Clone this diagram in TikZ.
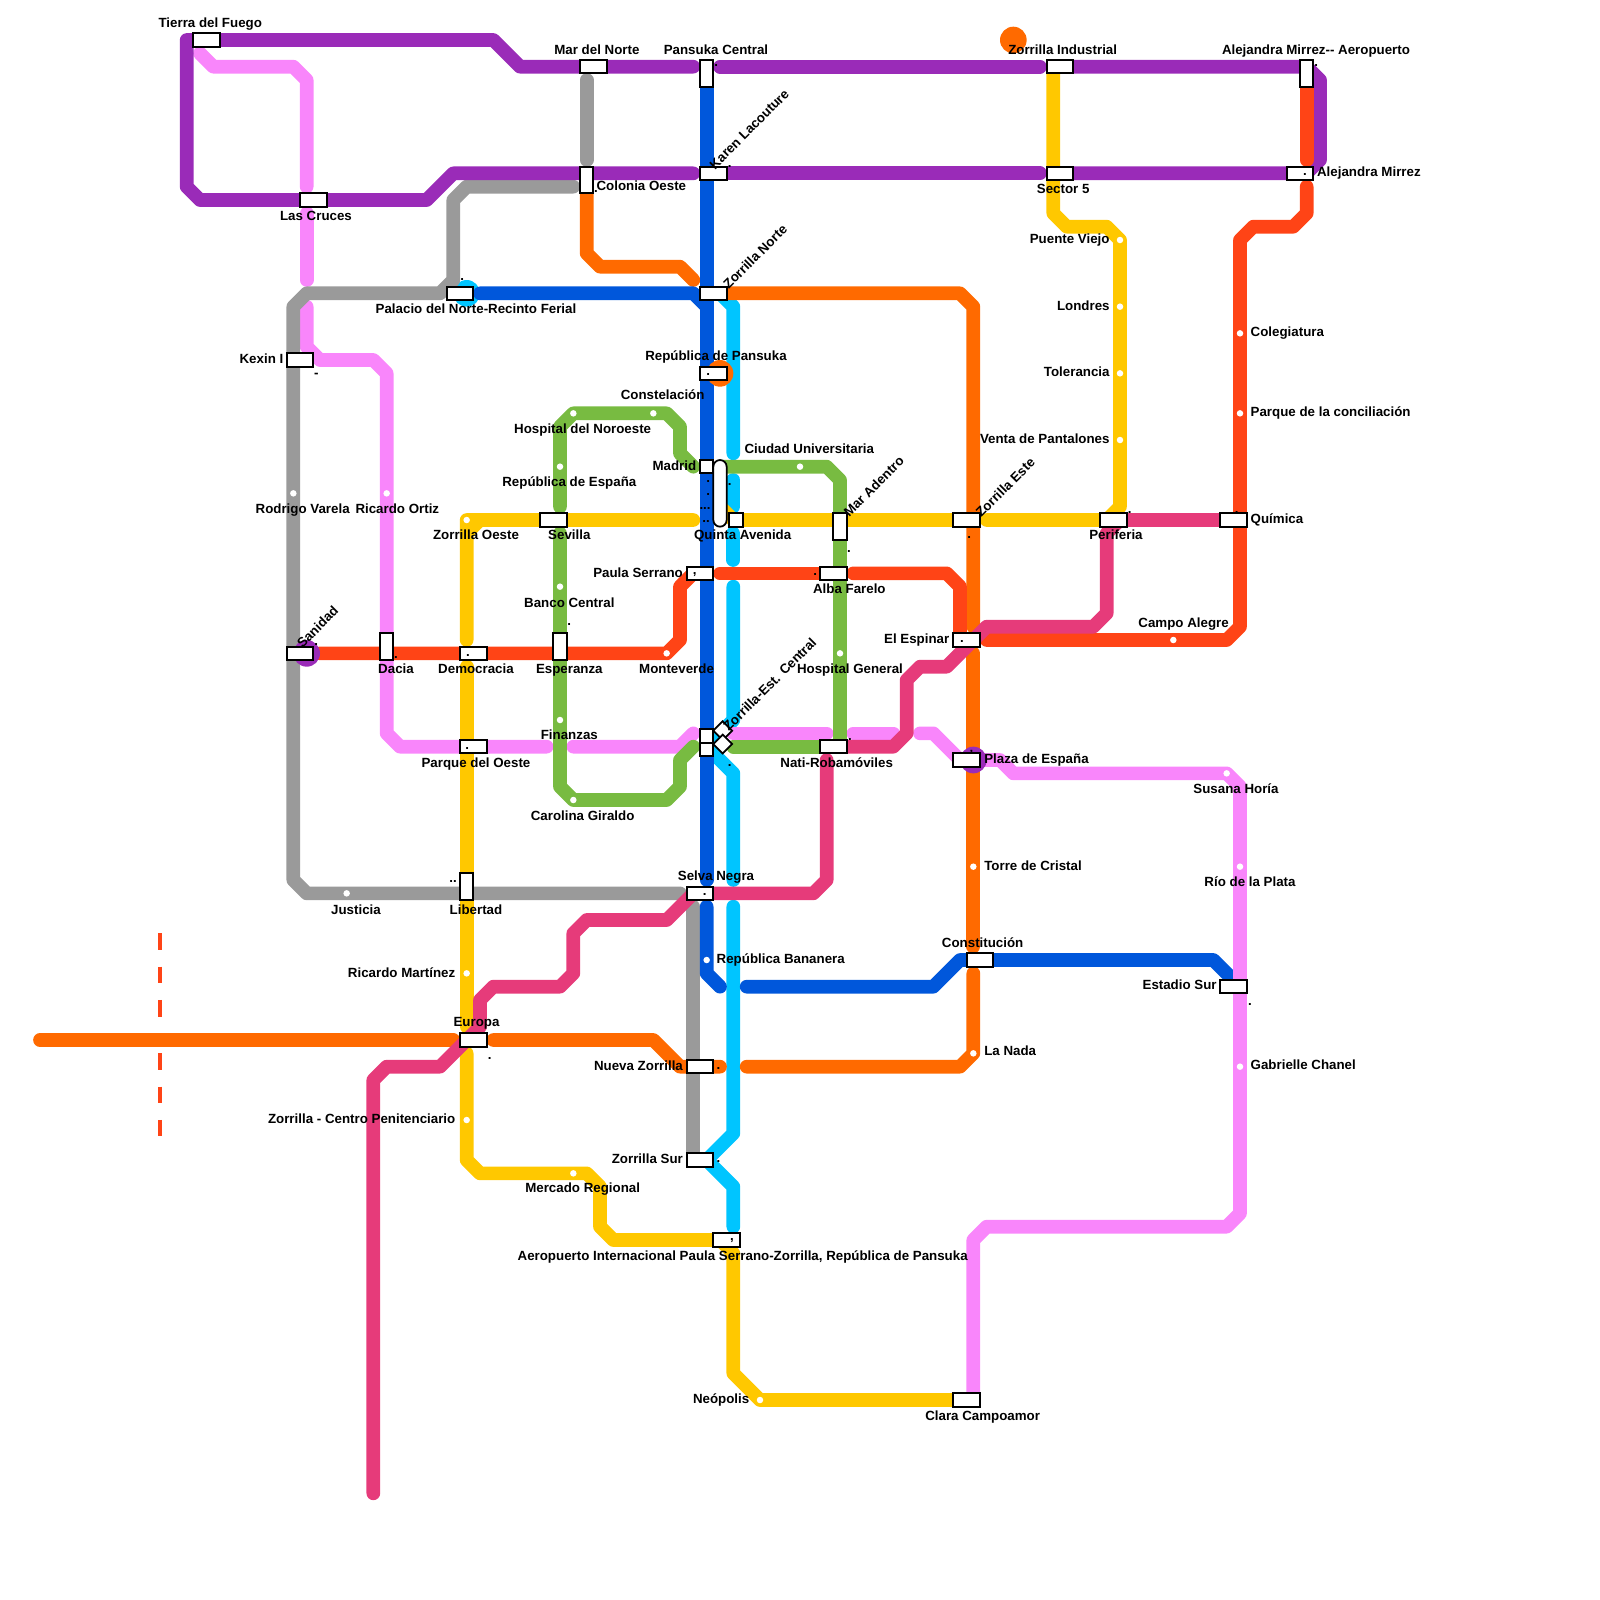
\documentclass[tikz,border=0pt]{standalone}
\usepackage{fontspec}
\setmainfont{Liberation Sans}
\definecolor{lineviolet}{HTML}{9A2BB8}
\definecolor{linepink}{HTML}{F986FB}
\definecolor{linegray}{HTML}{9A9A9A}
\definecolor{lineorange}{HTML}{FF6A00}
\definecolor{linered}{HTML}{FF4416}
\definecolor{lineyellow}{HTML}{FFC800}
\definecolor{linegreen}{HTML}{78BB41}
\definecolor{linecyan}{HTML}{00C5FF}
\definecolor{lineblue}{HTML}{0057DB}
\definecolor{linemagenta}{HTML}{E63B7A}
\tikzset{
    metro/.style={line width=0.137cm, line cap=round, line join=round},
    hub/.style={draw=black, fill=white, line width=0.5pt, inner sep=0pt, minimum width=0.2667cm, minimum height=0.1333cm},
    hubv/.style={hub, minimum width=0.1333cm, minimum height=0.2667cm},
    hubs/.style={hub, minimum width=0.1333cm, minimum height=0.1333cm},
    halt/.style={circle, fill=white, inner sep=0pt, minimum size=0.065cm},
    ring/.style={circle, inner sep=0pt, minimum size=0.2667cm},
    lblbase/.style={inner sep=0pt, text height=0.72em, text depth=0.2em, font=\fontsize{3.79}{4.5}\selectfont\bfseries},
    lbl/.style={lblbase, yshift=0.04cm},
    lblr/.style={lblbase, xshift=-0.04cm, yshift=0.015cm, rotate=45},
    tick/.style={inner sep=0pt, font=\fontsize{3.79}{4.5}\selectfont\bfseries}
}
\begin{document}
\begin{tikzpicture}[x=0.13333cm, y=-0.13333cm]
                \useasboundingbox (0,0) rectangle (120,120);

                \draw[linered, line width=0.036cm, dash pattern=on 0.166cm off 0.167cm] (12,70) -- (12,78);
                \draw[linered, line width=0.036cm, dash pattern=on 0.166cm off 0.167cm] (12,79) -- (12,85.2);

                \node[ring, fill=linecyan] (ringPalacio) at (35,22) {};

                \draw[metro, linecyan] (54,22) -- (55,23) -- (55,34);
                \draw[metro, linecyan] (55,36) -- (55,38);
                \draw[metro, linecyan] (55,40) -- (55,42);
                \draw[metro, linecyan] (55,44) -- (55,54) -- (53,56) -- (55,58) -- (55,66);
                \draw[metro, linecyan] (55,68) -- (55,85) -- (53,87) -- (55,89) -- (55,92);

                \draw[metro, linepink] (15,4) -- (16,5) -- (22,5) -- (23,6) -- (23,14);
                \draw[metro, linepink] (23,16) -- (23,21);
                \draw[metro, linepink] (23,23) -- (23,26) -- (24,27) -- (28,27) -- (29,28) -- (29,55) -- (30,56) -- (41,56);
                \draw[metro, linepink] (43,56) -- (51,56) -- (52,55);
                \draw[metro, linepink] (55,55) -- (62,55);
                \draw[metro, linepink] (64,55) -- (67,55);

                \draw[metro, linegray] (44,6) -- (44,12);
                \draw[metro, linegray] (43,14) -- (35,14) -- (34,15) -- (34,21) -- (33,22) -- (23,22) -- (22,23) -- (22,66) -- (23,67) -- (51,67);
                \draw[metro, linegray] (52,68) -- (52,87);

                \draw[metro, lineyellow] (52,39) -- (35,39) -- (35,48) (36,39) -- (35,40);
                \draw[metro, lineyellow] (35,50) -- (35,77);
                \draw[metro, lineyellow] (35,79) -- (35,87) -- (36,88) -- (44,88) -- (45,89) -- (45,92) -- (46,93) -- (54,93) -- (55,94) -- (55,103) -- (57,105) -- (72,105);
                \draw[metro, lineyellow] (79,5) -- (79,16) -- (80,17) -- (83,17) -- (84,18) -- (84,38) -- (83,39) -- (74,39);
                \draw[metro, lineyellow] (54,38) -- (55,39) -- (72,39);

                \draw[metro, linegreen] (52,35) -- (51,34) -- (51,32) -- (50,31) -- (43,31) -- (42,32) -- (42,38);
                \draw[metro, linegreen] (42,40) -- (42,59) -- (43,60) -- (50,60) -- (51,59) -- (51,57) -- (52,56);
                \draw[metro, linegreen] (54,35) -- (62,35) -- (63,36) -- (63,39);
                \draw[metro, linegreen] (63,40) -- (63,55.5);
                \draw[metro, linegreen] (55,56) -- (62,56);

                \draw[metro, lineorange] (3,78) -- (34,78);
                \draw[metro, lineorange] (37,78) -- (49,78) -- (51,80) -- (54,80);
                \draw[metro, lineorange] (44,14) -- (44,19) -- (45,20) -- (51,20) -- (52,21);
                \draw[metro, lineorange] (54,22) -- (72,22) -- (73,23) -- (73,47);
                \draw[metro, lineorange] (73,49) -- (73,71);
                \draw[metro, lineorange] (73,73) -- (73,79) -- (72,80) -- (56,80);

                \draw[metro, lineblue] (36,22) -- (52,22) -- (53,23);
                \draw[metro, lineblue] (53,6) -- (53,66);
                \draw[metro, lineblue] (53,68) -- (53,73) -- (54,74);
                \draw[metro, lineblue] (56,74) -- (70,74) -- (72,72) -- (91,72) -- (93,74);

                \draw[metro, linepink] (69,55) -- (70,55) -- (72,57) -- (75,57) -- (76,58) -- (92,58) -- (93,59) -- (93,91) -- (92,92) -- (74,92) -- (73,93) -- (73,105);

                \draw[metro, lineviolet] (52,5) -- (39,5) -- (37,3) -- (14,3) -- (14,14) -- (15,15) -- (32,15) -- (34,13) -- (52,13);
                \draw[metro, lineviolet] (54,5) -- (78,5);
                \draw[metro, lineviolet] (54,13) -- (78,13);
                \draw[metro, lineviolet] (80,5) -- (98,5) -- (99,6) -- (99,12) -- (98,13) -- (80,13);

                \draw[metro, linered] (98,6) -- (98,12);
                \draw[metro, linered] (98,14) -- (98,16) -- (97,17) -- (94,17) -- (93,18) -- (93,47) -- (92,48) -- (74,48);
                \draw[metro, linered] (24,49) -- (50,49) -- (51,48) -- (51,44) -- (52,43);
                \draw[metro, linered] (54,43) -- (62,43);
                \draw[metro, linered] (64,43) -- (71,43) -- (72,44) -- (72,47.5);

                \draw[metro, linemagenta] (28,112) -- (28,81) -- (29,80) -- (33,80) -- (36,77) -- (36,75) -- (37,74) -- (42,74) -- (43,73) -- (43,70) -- (44,69) -- (50,69) -- (52,67);
                \draw[metro, linemagenta] (53,67) -- (61,67) -- (62,66) -- (62,57);
                \draw[metro, linemagenta] (63,56) -- (67,56) -- (68,55) -- (68,51) -- (69,50) -- (71,50) -- (74,47) -- (82,47) -- (83,46) -- (83,40) -- (84,39) -- (92,39);

                \node[ring, fill=lineorange] (ringIndustrial) at (76,3) {};
                \node[ring, fill=lineorange] (ringPansuka) at (54,28) {};
                \node[ring, fill=lineviolet] (ringSanidad) at (23,49) {};
                \node[ring, fill=lineviolet] (ringPlaza) at (73,57) {};

                \foreach \hx/\hy [count=\hi] in {35/39, 43/31, 49/31, 42/35, 22/37, 29/37, 42/44, 50/49, 63/49, 42/54, 43/60, 26/67, 35/73, 35/84, 43/88, 53/72, 57/105, 73/79, 73/65, 93/65, 93/80, 92/58, 88/48, 93/25, 93/31, 84/18, 84/23, 84/28, 84/33, 60/35}
                    \node[halt] (halt\hi) at (\hx,\hy) {};

                \node[hub] (hubTierra) at (15.5,3) {};
                \node[hub] (hubMarNorte) at (44.5,5) {};
                \node[hubv] (hubPansuka) at (53,5.5) {};
                \node[hub] (hubKaren) at (53.5,13) {};
                \node[hubv] (hubColonia) at (44,13.5) {};
                \node[hub] (hubCruces) at (23.5,15) {};
                \node[hub] (hubPalacio) at (34.5,22) {};
                \node[hub] (hubNorte) at (53.5,22) {};
                \node[hub] (hubKexin) at (22.5,27) {};
                \node[hub] (hubRepublica) at (53.5,28) {};
                \node[hubs] (hubMadrid) at (53,35) {};
                \node[hubv, minimum height=0.6667cm, rounded corners=0.0666cm] (hubUniversitaria) at (54,37) {};
                \node[hubs] (hubQuinta) at (55.2,39) {};
                \node[hub] (hubSevilla) at (41.5,39) {};
                \node[hubv] (hubMarAdentro) at (63,39.5) {};
                \node[hub] (hubEste) at (72.5,39) {};
                \node[hub] (hubPeriferia) at (83.5,39) {};
                \node[hub] (hubQuimica) at (92.5,39) {};
                \node[hub] (hubPaula) at (52.5,43) {};
                \node[hub] (hubAlba) at (62.5,43) {};
                \node[hub] (hubEspinar) at (72.5,48) {};
                \node[hub] (hubSanidad) at (22.5,49) {};
                \node[hubv] (hubDacia) at (29,48.5) {};
                \node[hub] (hubDemocracia) at (35.5,49) {};
                \node[hubv] (hubEsperanza) at (42,48.5) {};
                \node[hub] (hubParque) at (35.5,56) {};
                \node[hubs] (hubCentralA) at (53,55.2) {};
                \node[hubs] (hubCentralB) at (53,56.2) {};
                \node[hubs, rotate=45] (hubCentralC) at (54.2,54.8) {};
                \node[hubs, rotate=45] (hubCentralD) at (54.2,55.8) {};
                \node[hub] (hubNati) at (62.5,56) {};
                \node[hub] (hubPlaza) at (72.5,57) {};
                \node[hub] (hubSelva) at (52.5,67) {};
                \node[hubv] (hubLibertad) at (35,66.5) {};
                \node[hub] (hubConstitucion) at (73.5,72) {};
                \node[hub] (hubEstadio) at (92.5,74) {};
                \node[hub] (hubEuropa) at (35.5,78) {};
                \node[hub] (hubNueva) at (52.5,80) {};
                \node[hub] (hubSur) at (52.5,87) {};
                \node[hub] (hubAeropuerto) at (54.5,93) {};
                \node[hub] (hubClara) at (72.5,105) {};
                \node[hub] (hubIndustrial) at (79.5,5) {};
                \node[hub] (hubSector) at (79.5,13) {};
                \node[hubv] (hubMirrezA) at (98,5.5) {};
                \node[hub] (hubMirrez) at (97.5,13) {};

                \node[lbl] (lbTierra) at (15.77,1.68) {Tierra del Fuego};
                \node[lbl] (lbMarNorte) at (44.77,3.67) {Mar del Norte};
                \node[lbl] (lbPansuka) at (53.7,3.67) {Pansuka Central};
                \node[lbl] (lbIndustrial) at (79.7,3.67) {Zorrilla Industrial};
                \node[lbl] (lbMirrezA) at (98.7,3.67) {Alejandra Mirrez-{}- Aeropuerto};
                \node[lbl] (lbColonia) at (48.1,13.87) {Colonia Oeste};
                \node[lbl] (lbCruces) at (23.7,16.15) {Las Cruces};
                \node[lbl] (lbPalacio) at (35.7,23.1) {Palacio del Norte-Recinto Ferial};
                \node[lbl, anchor=east] (lbKexin) at (21.3,26.85) {Kexin I};
                \node[lbl] (lbRepublica) at (53.7,26.65) {República de Pansuka};
                \node[lbl] (lbConstelacion) at (49.7,29.6) {Constelación};
                \node[lbl] (lbNoroeste) at (43.7,32.15) {Hospital del Noroeste};
                \node[lbl] (lbEspana) at (42.7,36.1) {República de España};
                \node[lbl, anchor=east] (lbMadrid) at (52.27,34.9) {Madrid};
                \node[lbl] (lbUniversitaria) at (60.7,33.65) {Ciudad Universitaria};
                \node[lbl] (lbVarela) at (22.7,38.1) {Rodrigo Varela};
                \node[lbl] (lbOrtiz) at (29.8,38.1) {Ricardo Ortiz};
                \node[lbl] (lbOeste) at (35.7,40.1) {Zorrilla Oeste};
                \node[lbl] (lbSevilla) at (42.7,40.1) {Sevilla};
                \node[lbl] (lbQuinta) at (55.7,40.1) {Quinta Avenida};
                \node[lbl, anchor=east] (lbPaula) at (51.27,42.9) {Paula Serrano};
                \node[lbl] (lbAlba) at (63.7,44.15) {Alba Farelo};
                \node[lbl] (lbBanco) at (42.7,45.15) {Banco Central};
                \node[lbl] (lbDacia) at (29.7,50.13) {Dacia};
                \node[lbl] (lbDemocracia) at (35.7,50.13) {Democracia};
                \node[lbl] (lbEsperanza) at (42.7,50.13) {Esperanza};
                \node[lbl] (lbMonteverde) at (50.74,50.13) {Monteverde};
                \node[lbl] (lbGeneral) at (63.75,50.13) {Hospital General};
                \node[lbl, anchor=east] (lbEspinar) at (71.25,47.9) {El Espinar};
                \node[lbl] (lbCampo) at (88.77,46.68) {Campo Alegre};
                \node[lbl] (lbFinanzas) at (42.7,55.1) {Finanzas};
                \node[lbl] (lbParque) at (35.7,57.17) {Parque del Oeste};
                \node[lbl] (lbNati) at (62.75,57.17) {Nati-Robamóviles};
                \node[lbl, anchor=west] (lbPlaza) at (73.77,56.86) {Plaza de España};
                \node[lbl] (lbCarolina) at (43.7,61.15) {Carolina Giraldo};
                \node[lbl] (lbSusana) at (92.7,59.15) {Susana Horía};
                \node[lbl, anchor=west] (lbTorre) at (73.77,64.9) {Torre de Cristal};
                \node[lbl] (lbRio) at (93.75,66.12) {Río de la Plata};
                \node[lbl] (lbSelva) at (53.7,65.66) {Selva Negra};
                \node[lbl] (lbJusticia) at (26.7,68.19) {Justicia};
                \node[lbl] (lbLibertad) at (35.7,68.19) {Libertad};
                \node[lbl] (lbConstitucion) at (73.7,70.64) {Constitución};
                \node[lbl, anchor=west] (lbBananera) at (53.7,71.86) {República Bananera};
                \node[lbl, anchor=east] (lbMartinez) at (34.2,72.93) {Ricardo Martínez};
                \node[lbl, anchor=east] (lbEstadio) at (91.3,73.85) {Estadio Sur};
                \node[lbl] (lbEuropa) at (35.74,76.6) {Europa};
                \node[lbl, anchor=west] (lbNada) at (73.77,78.8) {La Nada};
                \node[lbl, anchor=east] (lbNueva) at (51.27,79.9) {Nueva Zorrilla};
                \node[lbl, anchor=west] (lbChanel) at (93.75,79.82) {Gabrielle Chanel};
                \node[lbl, anchor=east] (lbPenitenciario) at (34.2,83.87) {Zorrilla - Centro Penitenciario};
                \node[lbl, anchor=east] (lbSur) at (51.27,86.86) {Zorrilla Sur};
                \node[lbl] (lbMercado) at (43.7,89.08) {Mercado Regional};
                \node[lbl] (lbAeropuerto) at (55.7,94.13) {Aeropuerto Internacional Paula Serrano-Zorrilla, República de Pansuka};
                \node[lbl, anchor=east] (lbNeopolis) at (56.25,104.85) {Neópolis};
                \node[lbl] (lbClara) at (73.7,106.15) {Clara Campoamor};
                \node[lbl, anchor=east] (lbPuente) at (83.27,17.9) {Puente Viejo};
                \node[lbl, anchor=east] (lbLondres) at (83.27,22.88) {Londres};
                \node[lbl, anchor=east] (lbTolerancia) at (83.27,27.86) {Tolerancia};
                \node[lbl, anchor=east] (lbVenta) at (83.27,32.9) {Venta de Pantalones};
                \node[lbl] (lbSector) at (79.74,14.16) {Sector 5};
                \node[lbl, anchor=west] (lbMirrez) at (98.73,12.86) {Alejandra Mirrez};
                \node[lbl, anchor=west] (lbColegiatura) at (93.75,24.87) {Colegiatura};
                \node[lbl, anchor=west] (lbConciliacion) at (93.75,30.84) {Parque de la conciliación};
                \node[lbl, anchor=west] (lbQuimica) at (93.75,38.88) {Química};
                \node[lbl] (lbPeriferia) at (83.7,40.1) {Periferia};

                \node[lblr] (lbSanidad) at (23.88,46.9) {Sanidad};
                \node[lblr] (lbKaren) at (56.25,9.57) {Karen Lacouture};
                \node[lblr] (lbNorte) at (56.7,19.13) {Zorrilla Norte};
                \node[lblr] (lbEste) at (75.46,36.43) {Zorrilla Este};
                \node[lblr] (lbMarAdentro) at (65.6,36.35) {Mar Adentro};
                \node[lblr] (lbCentral) at (57.8,51.2) {Zorrilla-Est. Central};

                \foreach \tx/\ty [count=\ti] in {53.72/4.9, 54.72/12.47, 44.7/14.39, 34.67/20.97, 53.11/28.09, 53.11/36.12, 53.11/37.12, 54.72/36.35, 98.72/4.9, 97.88/13.09, 84.72/38.42, 92.75/38.42, 72.7/40.33, 63.67/41.33, 23.72/48.37, 29.69/49.28, 35.1/49.13, 35.05/56.1, 42.7/46.84, 52.85/67.1, 61.15/43.08, 72.14/48.14, 63.75/55.48, 54.72/57.4, 36.73/79.36, 53.88/80.12, 53.88/87.09, 93.75/75.3}
                    \node[tick] (tick\ti) at (\tx,\ty) {.};
                \node[tick] (tickKexin) at (23.72,28.16) {-};
                \node[tick] (tickMadridA) at (52.88,38.11) {...};
                \node[tick] (tickMadridB) at (52.96,39.1) {..};
                \node[tick] (tickLibertad) at (33.98,66.12) {..};
                \node[tick] (tickPaula) at (52.1,43.08) {,};
                \node[tick] (tickAeropuerto) at (54.9,93.06) {,};
                \node[tick] (tickPlaza) at (72.86,56.63) {'};
            \end{tikzpicture}
\end{document}
